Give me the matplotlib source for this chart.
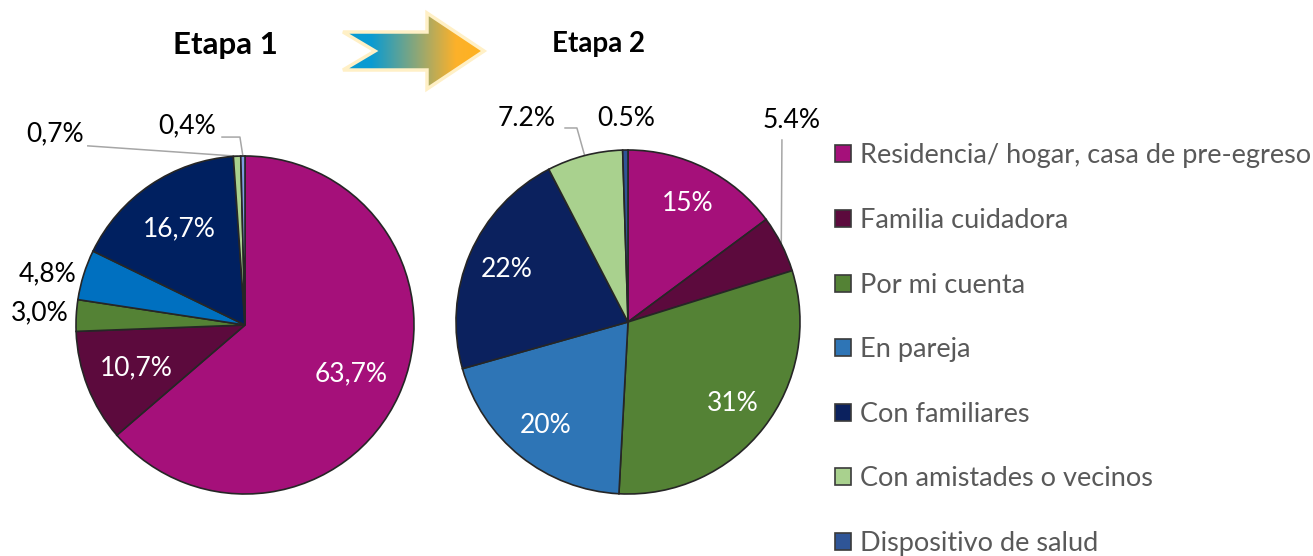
import numpy as np
import matplotlib
matplotlib.use("Agg")
import matplotlib.pyplot as plt
from matplotlib.patches import Patch, Polygon
from matplotlib.colors import LinearSegmentedColormap

# ---------------- data ----------------
categories = ["Residencia/ hogar, casa de pre-egreso", "Familia cuidadora", "Por mi cuenta",
              "En pareja", "Con familiares", "Con amistades o vecinos", "Dispositivo de salud"]
etapa1_values = [63.7, 10.7, 3.0, 4.8, 16.7, 0.7, 0.4]
etapa1_labels = ["63,7%", "10,7%", "3,0%", "4,8%", "16,7%", "0,7%", "0,4%"]
etapa2_values = [15, 5.4, 31, 20, 22, 7.2, 0.5]
etapa2_labels = ["15%", "5.4%", "31%", "20%", "22%", "7.2%", "0.5%"]
titles = ["Etapa 1", "Etapa 2"]

# ---------------- style ----------------
colors1 = ["#A5107A", "#5C0A3D", "#548235", "#0070C0", "#002060", "#A9D18E", "#7F9BE0"]
colors2 = ["#A5107A", "#5C0A3D", "#548235", "#2E75B6", "#0B215E", "#A9D18E", "#2F5597"]
legend_colors = ["#A5107A", "#5C0A3D", "#548235", "#2E75B6", "#0B215E", "#A9D18E", "#2F5597"]

FONT = "Lato"
plt.rcParams["font.family"] = [FONT, "DejaVu Sans"]
LABEL_FS = 19

W, H = 1313, 556
fig = plt.figure(figsize=(W / 100, H / 100), dpi=100)

def px_axes(cx, cy, r):
    return fig.add_axes([(cx - r) / W, (H - cy - r) / H, 2 * r / W, 2 * r / H])

# label layout: None -> inside label (white) at mid-angle; otherwise (text pos, leader points)
layout1 = [None, None,
           dict(pos=(-1.213, 0.07), lead=None),
           dict(pos=(-1.166, 0.30), lead=None),
           None,
           dict(pos=(-1.124, 1.13), lead=[(-0.93, 1.06)]),
           dict(pos=(-0.343, 1.18), lead=[(-0.136, 1.112), (-0.03, 1.112)])]
layout2 = [None,
           dict(pos=(0.953, 1.17), lead=[(0.895, 1.058)]),
           None, None, None,
           dict(pos=(-0.587, 1.185), lead=[(-0.366, 1.128), (-0.297, 1.128)]),
           dict(pos=(-0.012, 1.185), lead=None)]

def draw_pie(ax, values, labels, colors, layout, r_in):
    wedges, _ = ax.pie(values, colors=colors, startangle=90, counterclock=False, radius=1,
                       wedgeprops=dict(edgecolor="#262626", linewidth=1.2))
    ax.set_xlim(-1, 1)
    ax.set_ylim(-1, 1)
    ax.set_aspect("equal")
    ax.axis("off")
    for w, lab, lay in zip(wedges, labels, layout):
        mid = np.deg2rad((w.theta1 + w.theta2) / 2)
        if lay is None:
            ax.text(r_in * np.cos(mid), r_in * np.sin(mid), lab, color="white",
                    ha="center", va="center", fontsize=LABEL_FS)
        else:
            ax.text(lay["pos"][0], lay["pos"][1], lab, color="black",
                    ha="center", va="center", fontsize=LABEL_FS, clip_on=False)
            if lay["lead"]:
                pts = list(lay["lead"]) + [(np.cos(mid), np.sin(mid))]
                xs, ys = zip(*pts)
                ax.plot(xs, ys, color="#A6A6A6", lw=1.1, clip_on=False, zorder=0.5)

ax1 = px_axes(245, 325, 169)
draw_pie(ax1, etapa1_values, etapa1_labels, colors1, layout1, 0.69)
ax2 = px_axes(628, 322, 172)
draw_pie(ax2, etapa2_values, etapa2_labels, colors2, layout2, 0.77)

# ---------------- titles and arrow (pixel overlay) ----------------
ov = fig.add_axes([0, 0, 1, 1], zorder=-1)
ov.set_xlim(0, W)
ov.set_ylim(H, 0)
ov.axis("off")
ov.text(225, 45, titles[0], fontsize=22.5, fontweight="bold", ha="center", va="center")
ov.text(598, 44, titles[1], fontsize=20, fontweight="bold", ha="center", va="center")

arrow_pts = [(343, 32), (427, 32), (427, 13), (484, 51), (427, 89), (427, 70), (343, 70), (375, 51)]
cmap = LinearSegmentedColormap.from_list("arr", [(0, "#0A9BD2"), (0.2, "#0A9BD2"),
                                                (0.8, "#FCB12A"), (1, "#FFB21F")])
grad = np.linspace(0, 1, 256).reshape(1, -1)
im = ov.imshow(grad, cmap=cmap, extent=(343, 484, 89, 13), aspect="auto", zorder=1)
poly = Polygon(arrow_pts, closed=True, facecolor="none", edgecolor="#FFF0C6", lw=2.5, zorder=2,
               joinstyle="miter")
ov.add_patch(poly)
im.set_clip_path(poly)
ov.set_xlim(0, W)
ov.set_ylim(H, 0)

# ---------------- legend ----------------
handles = [Patch(facecolor=c, edgecolor="#3A3A3A", lw=1.2) for c in legend_colors]
fig.legend(handles, categories, loc="upper left", bbox_to_anchor=(835 / W, (H - 143.5) / H),
           frameon=False, fontsize=19.5, labelcolor="#595959", handlelength=0.59, handleheight=0.59,
           handletextpad=0.33, labelspacing=1.46, borderpad=0, borderaxespad=0)

fig.savefig("out.png", dpi=100)
